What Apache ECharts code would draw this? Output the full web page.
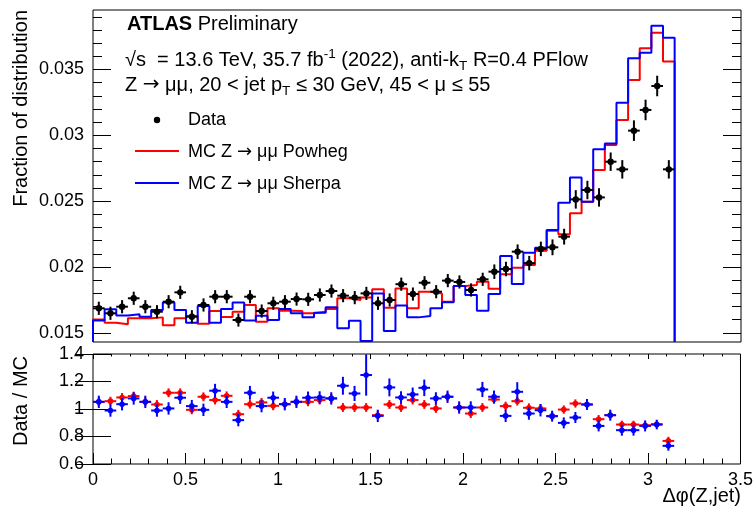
<!DOCTYPE html>
<html><head><meta charset="utf-8">
<script src="https://cdn.jsdelivr.net/npm/echarts@6/dist/echarts.min.js"></script>
<style>html,body{margin:0;padding:0;background:#fff}#c{width:756px;height:506px}</style>
</head><body><div id="c"></div>
<script>
// ---- binning: 50 bins from 0 to pi in delta-phi(Z,jet)
const nBins = 50;
const xLow = 0, xHigh = Math.PI;

// ---- top panel: fraction of distribution
const dataVals = [0.01687,0.01649,0.01699,0.01763,0.01699,0.01661,0.01737,0.01808,0.01623,0.01712,
 0.01775,0.01775,0.01598,0.01775,0.01666,0.01725,0.01737,0.01757,0.01755,0.01788,
 0.01818,0.01783,0.01768,0.01800,0.01725,0.01750,0.01870,0.01795,0.01881,0.01813,
 0.01897,0.01887,0.01826,0.01907,0.01965,0.01985,0.02117,0.02030,0.02138,0.02150,
 0.02231,0.02514,0.02585,0.02529,0.02800,0.02742,0.03036,0.03193,0.03375,0.02742];
const dataErr = [0.0005,0.0005,0.0005,0.0005,0.0005,0.0005,0.0005,0.0005,0.0005,0.0005,
 0.0005,0.0005,0.0005,0.0005,0.0005,0.0005,0.0005,0.0005,0.0005,0.0005,
 0.0005,0.0005,0.0005,0.0005,0.0005,0.0005,0.0005,0.0005,0.0005,0.0005,
 0.0005,0.0005,0.0005,0.0005,0.00055,0.00055,0.00055,0.00055,0.00055,0.0006,
 0.0006,0.0007,0.0007,0.0007,0.0007,0.0007,0.00078,0.00078,0.00078,0.0007];
const powheg = [0.01602,0.01578,0.01565,0.01611,0.01611,0.01618,0.01558,0.01611,0.01628,0.01570,
 0.01666,0.01621,0.01661,0.01712,0.01585,0.01687,0.01669,0.01666,0.01649,0.01661,
 0.01682,0.01763,0.01750,0.01768,0.01831,0.01692,0.01838,0.01687,0.01813,0.01800,
 0.01737,0.01856,0.01864,0.01889,0.01836,0.01945,0.01995,0.02016,0.02124,0.02275,
 0.02250,0.02408,0.02496,0.02737,0.02927,0.03117,0.03420,0.03661,0.03780,0.03560];
const sherpa = [0.01595,0.01679,0.01633,0.01641,0.01623,0.01674,0.01730,0.01674,0.01578,0.01704,
 0.01578,0.01682,0.01730,0.01595,0.01630,0.01598,0.01682,0.01649,0.01618,0.01654,
 0.01694,0.01535,0.01593,0.01439,0.01800,0.01514,0.01708,0.01618,0.01628,0.01687,
 0.01732,0.01856,0.01788,0.01669,0.01795,0.02084,0.01871,0.02109,0.02147,0.02281,
 0.02488,0.02681,0.02496,0.02894,0.02939,0.03248,0.03585,0.03628,0.03833,0.03742];

// ---- bottom panel: Data / MC
const ratioPowheg = [1.052,1.057,1.084,1.094,1.052,1.033,1.118,1.118,0.994,1.089,
 1.065,1.096,0.962,1.035,1.048,1.023,1.035,1.052,1.052,1.065,
 1.077,1.011,1.011,1.011,0.955,1.033,1.011,1.065,1.033,1.004,
 1.089,1.011,0.967,1.011,1.069,1.021,1.057,1.009,1.004,0.948,
 0.996,1.040,1.033,0.926,0.955,0.887,0.887,0.882,0.889,0.768];
const ratioPowhegErr = [0.032,0.032,0.032,0.032,0.032,0.032,0.032,0.032,0.032,0.032,
 0.032,0.032,0.032,0.032,0.032,0.032,0.032,0.032,0.032,0.032,
 0.032,0.032,0.032,0.032,0.032,0.032,0.032,0.032,0.032,0.032,
 0.032,0.032,0.032,0.032,0.032,0.032,0.032,0.032,0.032,0.03,
 0.03,0.03,0.03,0.03,0.03,0.028,0.028,0.028,0.028,0.03];
const ratioSherpa = [1.052,0.989,1.035,1.077,1.052,0.989,1.004,1.082,1.021,0.994,
 1.133,1.052,0.919,1.118,1.021,1.082,1.035,1.052,1.082,1.084,
 1.077,1.169,1.113,1.247,0.950,1.157,1.084,1.106,1.154,1.077,
 1.089,1.011,1.011,1.142,1.089,0.950,1.125,0.967,0.991,0.948,
 0.899,0.938,1.033,0.877,0.955,0.846,0.846,0.877,0.887,0.732];
const ratioSherpaErr = [0.045,0.045,0.045,0.045,0.045,0.045,0.045,0.045,0.045,0.045,
 0.05,0.045,0.045,0.05,0.045,0.045,0.045,0.045,0.045,0.045,
 0.045,0.065,0.055,0.15,0.045,0.065,0.045,0.05,0.06,0.045,
 0.045,0.045,0.045,0.055,0.045,0.045,0.07,0.045,0.045,0.04,
 0.04,0.04,0.04,0.04,0.04,0.04,0.04,0.04,0.035,0.035];

// ---- tick labels
const yTopMajor = [0.015,0.02,0.025,0.03,0.035];
const yTopMinor = [0.015,0.016,0.017,0.018,0.019,0.02,0.021,0.022,0.023,0.024,0.025,0.026,0.027,0.028,0.029,0.03,0.031,0.032,0.033,0.034,0.035,0.036,0.037,0.038,0.039];
const yRatioTicks = [0.6,0.8,1,1.2,1.4];

// ---- derived bin geometry
const binW = (xHigh - xLow) / nBins;
const edges = Array.from({length: nBins + 1}, (_, i) => xLow + i * binW);
const centers = Array.from({length: nBins}, (_, i) => xLow + (i + 0.5) * binW);
const yTopMin = 0.01431, yTopMax = 0.03952;
const FF = 'Liberation Sans, Arial, Helvetica, sans-serif';

function histLine(vals) {
  const pts = [[edges[0], yTopMin]];
  vals.forEach((v, i) => pts.push([edges[i], v]));
  pts.push([edges[nBins], vals[nBins - 1]]);
  pts.push([edges[nBins], yTopMin]);
  return pts;
}
function errRender(color, rad) {
  return function (params, api) {
    const x = api.value(0), y = api.value(1), e = api.value(2);
    const c = api.coord([x, y]);
    const lo = api.coord([x, y - e]), hi = api.coord([x, y + e]);
    const l = api.coord([x - binW / 2, y]), r = api.coord([x + binW / 2, y]);
    return {type: 'group', children: [
      {type: 'line', shape: {x1: l[0], y1: c[1], x2: r[0], y2: c[1]}, style: {stroke: color, lineWidth: 2}},
      {type: 'line', shape: {x1: c[0], y1: lo[1], x2: c[0], y2: hi[1]}, style: {stroke: color, lineWidth: 2}},
      {type: 'circle', shape: {cx: c[0], cy: c[1], r: rad}, style: {fill: color}}
    ]};
  };
}
const lbl = {fontSize: 18, color: '#000', fontFamily: FF};
function yAx(grid, min, max, pos, ticks, len, labels) {
  return {gridIndex: grid, type: 'value', min: min, max: max, position: pos,
    axisLine: {show: false}, splitLine: {show: false},
    axisTick: {show: true, inside: true, length: len, customValues: ticks, lineStyle: {color: '#000', width: 1}},
    axisLabel: labels ? Object.assign({show: true, customValues: labels, margin: 9,
      formatter: v => String(+(+v).toFixed(4))}, lbl) : {show: false}};
}

const chart = echarts.init(document.getElementById('c'), null, {renderer: 'canvas'});
const AF = 'DejaVu Sans, sans-serif';
const sub = {fontSize: 13.5, fontFamily: FF, verticalAlign: 'bottom', lineHeight: 26, fill: '#000'};
const sup = {fontSize: 13.5, fontFamily: FF, verticalAlign: 'top', lineHeight: 26, fill: '#000'};
const nrm = {fontSize: 20, fontFamily: FF, lineHeight: 26, fill: '#000'};
const arr = {fontSize: 20, fontFamily: AF, lineHeight: 26, fill: '#000'};
const lg = {fontSize: 18, fontFamily: FF, lineHeight: 24, fill: '#000'};
const lgArr = {fontSize: 18, fontFamily: AF, lineHeight: 24, fill: '#000'};
chart.setOption({
  animation: false,
  backgroundColor: '#fff',
  grid: [
    {left: 93, top: 10, width: 648, height: 332, show: true, borderColor: '#000', borderWidth: 1, backgroundColor: 'transparent'},
    {left: 93, top: 354, width: 648, height: 110, show: true, borderColor: '#000', borderWidth: 1, backgroundColor: 'transparent'}
  ],
  xAxis: [
    {gridIndex: 0, type: 'value', min: 0, max: 3.5, position: 'bottom', axisLine: {show: false}, axisTick: {show: false}, axisLabel: {show: false}, splitLine: {show: false}},
    {gridIndex: 1, type: 'value', min: 0, max: 3.5, interval: 0.5, position: 'bottom', axisLine: {show: false}, splitLine: {show: false},
      axisTick: {show: true, inside: true, length: 11, lineStyle: {color: '#000'}},
      minorTick: {show: true, splitNumber: 5, length: 5.5, lineStyle: {color: '#000'}},
      axisLabel: Object.assign({show: true, margin: 7, formatter: v => String(+(+v).toFixed(2))}, lbl)},
    {gridIndex: 1, type: 'value', min: 0, max: 3.5, interval: 0.5, position: 'top', axisLine: {show: false}, splitLine: {show: false},
      axisTick: {show: true, inside: true, length: 5, lineStyle: {color: '#000'}},
      minorTick: {show: true, splitNumber: 5, length: 2.5, lineStyle: {color: '#000'}},
      axisLabel: {show: false}}
  ],
  yAxis: [
    yAx(0, yTopMin, yTopMax, 'left', yTopMajor, 18, yTopMajor),
    yAx(0, yTopMin, yTopMax, 'left', yTopMinor, 9, null),
    yAx(0, yTopMin, yTopMax, 'right', yTopMajor, 18, null),
    yAx(0, yTopMin, yTopMax, 'right', yTopMinor, 9, null),
    yAx(1, 0.6, 1.4, 'left', yRatioTicks, 18, yRatioTicks),
    yAx(1, 0.6, 1.4, 'right', yRatioTicks, 18, null)
  ],
  series: [
    {type: 'line', name: 'MC Z → μμ Powheg', xAxisIndex: 0, yAxisIndex: 0, data: histLine(powheg), step: 'end',
      symbol: 'none', lineStyle: {color: '#ff0000', width: 2}, clip: true, z: 2},
    {type: 'line', name: 'MC Z → μμ Sherpa', xAxisIndex: 0, yAxisIndex: 0, data: histLine(sherpa), step: 'end',
      symbol: 'none', lineStyle: {color: '#0000ff', width: 2}, clip: true, z: 3},
    {type: 'custom', name: 'Data', xAxisIndex: 0, yAxisIndex: 0, clip: true, z: 4,
      data: dataVals.map((v, i) => [centers[i], v, dataErr[i]]), encode: {x: 0, y: 1},
      renderItem: errRender('#000', 3.2)},
    {type: 'custom', name: 'Data/Powheg', xAxisIndex: 1, yAxisIndex: 4, clip: true, z: 3,
      data: ratioPowheg.map((v, i) => [centers[i], v, ratioPowhegErr[i]]), encode: {x: 0, y: 1},
      renderItem: errRender('#ff0000', 2.8)},
    {type: 'custom', name: 'Data/Sherpa', xAxisIndex: 1, yAxisIndex: 4, clip: true, z: 4,
      data: ratioSherpa.map((v, i) => [centers[i], v, ratioSherpaErr[i]]), encode: {x: 0, y: 1},
      renderItem: errRender('#0000ff', 2.8)}
  ],
  graphic: [
    {type: 'text', x: 127, y: 11, style: {text: '{b|ATLAS} {n|Preliminary}', fontSize: 20, fontFamily: FF, fill: '#000', align: 'left', verticalAlign: 'top',
      rich: {b: Object.assign({}, nrm, {fontWeight: 'bold'}), n: nrm}}},
    {type: 'text', x: 125, y: 47, style: {text: '{n|√s  = 13.6 TeV, 35.7 fb}{sup|-1}{n| (2022), anti-k}{sub|T}{n| R=0.4 PFlow}',
      fontSize: 20, fontFamily: FF, fill: '#000', align: 'left', verticalAlign: 'top', rich: {n: nrm, sup: sup, sub: sub}}},
    {type: 'text', x: 125, y: 72, style: {text: '{n|Z }{a|→}{n| μμ, 20 < jet p}{sub|T}{n| ≤ 30 GeV, 45 < μ ≤ 55}',
      fontSize: 20, fontFamily: FF, fill: '#000', align: 'left', verticalAlign: 'top', rich: {n: nrm, sub: sub, a: arr}}},
    {type: 'circle', shape: {cx: 157, cy: 120, r: 3.2}, style: {fill: '#000'}},
    {type: 'text', x: 188, y: 120, style: {text: 'Data', fontSize: 18, fontFamily: FF, fill: '#000', align: 'left', verticalAlign: 'middle'}},
    {type: 'line', shape: {x1: 135, y1: 151, x2: 179, y2: 151}, style: {stroke: '#ff0000', lineWidth: 2}},
    {type: 'text', x: 188, y: 152, style: {text: '{n|MC Z }{a|→}{n| μμ Powheg}', fontSize: 18, fontFamily: FF, fill: '#000', align: 'left', verticalAlign: 'middle', rich: {n: lg, a: lgArr}}},
    {type: 'line', shape: {x1: 135, y1: 183, x2: 179, y2: 183}, style: {stroke: '#0000ff', lineWidth: 2}},
    {type: 'text', x: 188, y: 184, style: {text: '{n|MC Z }{a|→}{n| μμ Sherpa}', fontSize: 18, fontFamily: FF, fill: '#000', align: 'left', verticalAlign: 'middle', rich: {n: lg, a: lgArr}}},
    {type: 'text', x: 21, y: 10, rotation: Math.PI / 2, style: {text: 'Fraction of distribution', fontSize: 20, fontFamily: FF, fill: '#000', align: 'right', verticalAlign: 'middle'}},
    {type: 'text', x: 21, y: 356, rotation: Math.PI / 2, style: {text: 'Data / MC', fontSize: 20, fontFamily: FF, fill: '#000', align: 'right', verticalAlign: 'middle'}},
    {type: 'text', x: 741, y: 496, style: {text: 'Δφ(Z,jet)', fontSize: 20, fontFamily: FF, fill: '#000', align: 'right', verticalAlign: 'middle'}}
  ]
});
</script></body></html>
